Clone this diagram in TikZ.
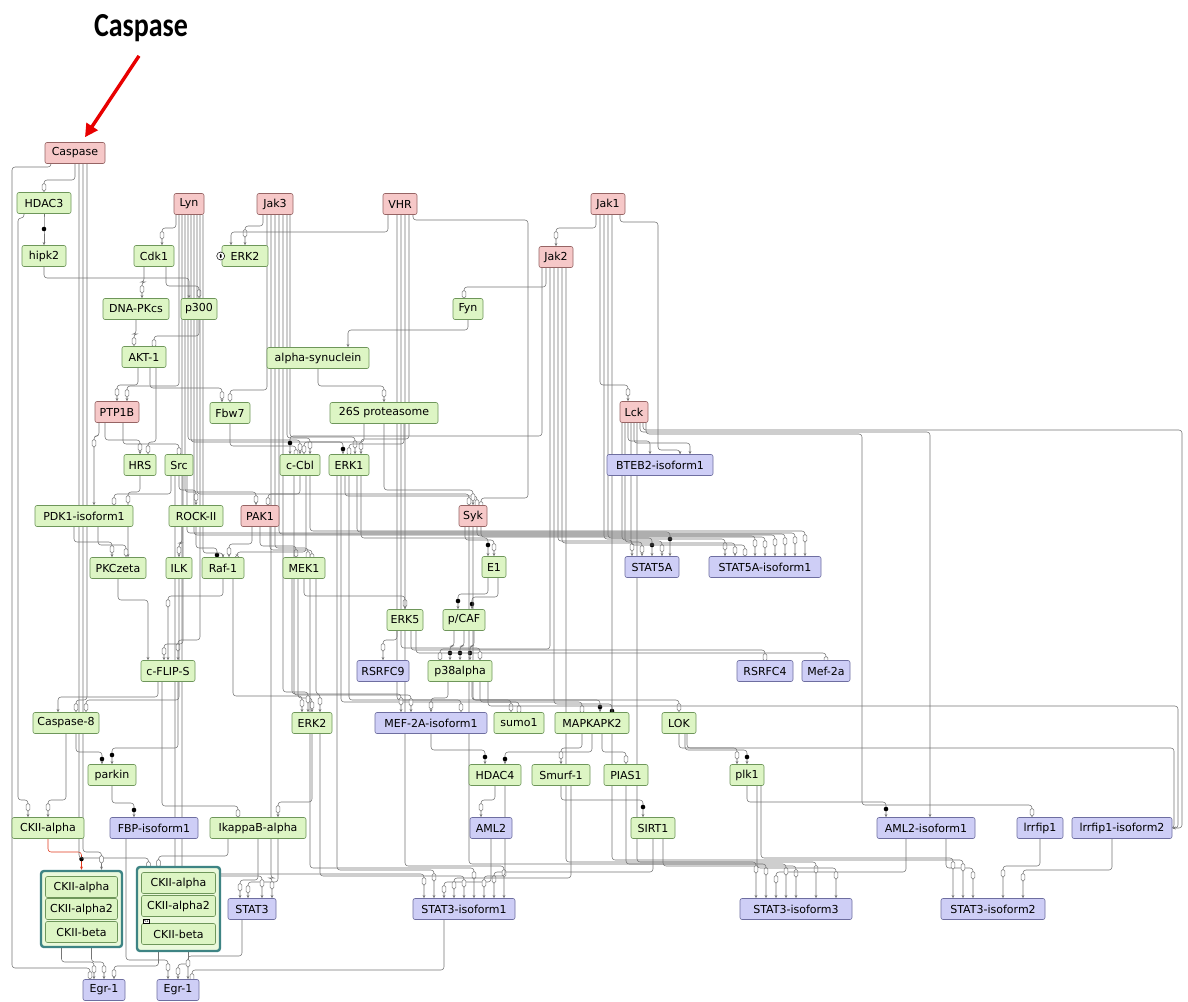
\documentclass[tikz,border=0pt]{standalone}
\usepackage{fontspec}
\usepackage{graphicx}
\usetikzlibrary{arrows.meta,calc}
\newfontfamily\nodefamily{DejaVu Sans}
\newfontfamily\titlefamily{Carlito}
\definecolor{pinkfill}{RGB}{246,200,200}
\definecolor{pinkline}{RGB}{150,100,100}
\definecolor{greenfill}{RGB}{221,245,196}
\definecolor{greenline}{RGB}{110,150,90}
\definecolor{bluefill}{RGB}{206,206,246}
\definecolor{blueline}{RGB}{110,110,160}
\definecolor{cxline}{RGB}{62,132,132}
\definecolor{wirecol}{RGB}{118,118,118}
\definecolor{arrowred}{RGB}{232,0,0}
\pgfdeclarelayer{bg}
\pgfdeclarelayer{wires}
\pgfsetlayers{bg,wires,main}
\tikzset{
  box/.style={draw, rounded corners=2pt, minimum height=21pt, inner xsep=3pt, inner ysep=2pt,
    line width=0.6pt, font=\nodefamily\fontsize{11}{12}\selectfont},
  pinkbox/.style={box, fill=pinkfill, draw=pinkline},
  greenbox/.style={box, fill=greenfill, draw=greenline},
  bluebox/.style={box, fill=bluefill, draw=blueline},
  cxbox/.style={draw=cxline, line width=2.4pt, rounded corners=3pt, fill=greenfill!60},
  wire/.style={draw=wirecol, line width=0.55pt, rounded corners=3pt, -{Stealth[length=3.2pt,width=2.8pt]}},
  capsule/.style={draw=wirecol, fill=white, line width=0.5pt, rounded corners=1.5pt},
  dotc/.style={fill=black},
}
% orthogonal connector: source south -> horizontal bus -> target north
\newcommand\conn[7][]{%
  \draw[wire,#1] let \p1=([xshift=#3pt]#2.south), \p2=([xshift=#5pt]#4.north), \p3=(0,#6) in
    (\p1) -- (\x1,\y3) -- (\x2,\y3) -- (\p2);
  \ifcase#7\relax
  \or \draw[capsule] let \p2=([xshift=#5pt]#4.north), \p3=(0,#6) in
      (\x2-1.8pt,\y3-3.5pt) rectangle (\x2+1.8pt,\y3-11pt);
  \or \fill[dotc] let \p2=([xshift=#5pt]#4.north), \p3=(0,#6) in
      (\x2,\y3-7pt) circle (2.3pt);
  \fi}
% connector routed round a side lane: down, across to lane X, down, across, into target top
\newcommand\lconn[8]{%
  \draw[wire] let \p1=([xshift=#2pt]#1.south), \p2=([xshift=#7pt]#6.north), \p3=(#4,#3), \p4=(#4,#5) in
    (\p1) -- (\x1,\y3) -- (\p3) -- (\p4) -- (\x2,\y4) -- (\p2);
  \ifnum#8=1
  \draw[capsule] let \p2=([xshift=#7pt]#6.north), \p4=(#4,#5) in
      (\x2-1.8pt,\y4-3.5pt) rectangle (\x2+1.8pt,\y4-11pt);
  \fi}
% connector entering the east side of its target
\newcommand\econn[5]{%
  \draw[wire] let \p1=([xshift=#2pt]#1.south), \p2=(#5.east), \p3=(#4,#3) in
    (\p1) -- (\x1,\y3) -- (\p3) -- (\x3,\y2) -- (\p2);}

\begin{document}
\begin{tikzpicture}[x=1pt,y=-1pt]
\begin{pgfonlayer}{bg}
  \fill[white] (0,0) rectangle (1188,1001);
\end{pgfonlayer}
\useasboundingbox (0,0) rectangle (1188,1001);

% ---------- title and pointer ----------
\node[font=\titlefamily\bfseries\fontsize{28}{30}\selectfont, inner sep=0pt] (title) at (141,28) {\scalebox{1}[1.2]{Caspase}};

% ---------- kinases (pink) ----------
\node[pinkbox, minimum width=60pt] (caspase) at (75,153) {Caspase};
\node[pinkbox, minimum width=30pt] (lyn) at (189,204) {Lyn};
\node[pinkbox, minimum width=36pt] (jakthree) at (275,204) {Jak3};
\node[pinkbox, minimum width=34pt] (vhr) at (400,204) {VHR};
\node[pinkbox, minimum width=34pt] (jakone) at (608,204) {Jak1};
\node[pinkbox, minimum width=34pt] (jaktwo) at (556,257) {Jak2};
\node[pinkbox, minimum width=44pt] (ptp) at (117,412) {PTP1B};
\node[pinkbox, minimum width=28pt] (lck) at (634,412) {Lck};
\node[pinkbox, minimum width=38pt] (pak) at (260,516) {PAK1};
\node[pinkbox, minimum width=28pt] (syk) at (473,516) {Syk};

% ---------- green proteins ----------
\node[greenbox, minimum width=54pt] (hdac3) at (44,203) {HDAC3};
\node[greenbox, minimum width=44pt] (hipk2) at (44,256) {hipk2};
\node[greenbox, minimum width=40pt] (cdk1) at (154,256) {Cdk1};
\node[greenbox, minimum width=46pt] (erktwoa) at (245,256) {ERK2};
\node[greenbox, minimum width=30pt] (fyn) at (468,309) {Fyn};
\node[greenbox, minimum width=66pt] (dnapk) at (136,309) {DNA-PKcs};
\node[greenbox, minimum width=36pt] (ptrec) at (199,309) {p300};
\node[greenbox, minimum width=44pt] (akt) at (144,357) {AKT-1};
\node[greenbox, minimum width=102pt] (asyn) at (318,358) {alpha-synuclein};
\node[greenbox, minimum width=40pt] (fbw) at (230,413) {Fbw7};
\node[greenbox, minimum width=108pt] (prot) at (384,413) {26S proteasome};
\node[greenbox, minimum width=32pt] (hrs) at (140,465) {HRS};
\node[greenbox, minimum width=28pt] (src) at (179,465) {Src};
\node[greenbox, minimum width=40pt] (ccbl) at (300,465) {c-Cbl};
\node[greenbox, minimum width=40pt] (erkone) at (349,465) {ERK1};
\node[greenbox, minimum width=98pt] (pdk) at (84,516) {PDK1-isoform1};
\node[greenbox, minimum width=54pt] (rock) at (196,516) {ROCK-II};
\node[greenbox, minimum width=56pt] (pkcz) at (118,568) {PKCzeta};
\node[greenbox, minimum width=26pt] (ilk) at (179,568) {ILK};
\node[greenbox, minimum width=42pt] (raf) at (223,568) {Raf-1};
\node[greenbox, minimum width=42pt] (mek) at (304,568) {MEK1};
\node[greenbox, minimum width=24pt] (eone) at (494,567) {E1};
\node[greenbox, minimum width=36pt] (erkfive) at (405,620) {ERK5};
\node[greenbox, minimum width=42pt] (pcaf) at (464,620) {p/CAF};
\node[greenbox, minimum width=64pt] (pthirtyeight) at (460,671) {p38alpha};
\node[greenbox, minimum width=54pt] (cflip) at (168,671) {c-FLIP-S};
\node[greenbox, minimum width=66pt] (caspeight) at (66,723) {Caspase-8};
\node[greenbox, minimum width=40pt] (erktwob) at (312,723) {ERK2};
\node[greenbox, minimum width=50pt] (sumo) at (519,723) {sumo1};
\node[greenbox, minimum width=74pt] (mapk) at (592,723) {MAPKAPK2};
\node[greenbox, minimum width=34pt] (lok) at (679,723) {LOK};
\node[greenbox, minimum width=48pt] (parkin) at (112,775) {parkin};
\node[greenbox, minimum width=52pt] (hdacfour) at (495,775) {HDAC4};
\node[greenbox, minimum width=58pt] (smurf) at (561,775) {Smurf-1};
\node[greenbox, minimum width=44pt] (pias) at (626,775) {PIAS1};
\node[greenbox, minimum width=34pt] (plk) at (747,775) {plk1};
\node[greenbox, minimum width=72pt] (ckiia) at (48,828) {CKII-alpha};
\node[greenbox, minimum width=96pt] (ikb) at (258,828) {IkappaB-alpha};
\node[greenbox, minimum width=44pt] (sirt) at (653,828) {SIRT1};

% ---------- transcription factors (blue) ----------
\node[bluebox, minimum width=106pt] (bteb) at (660,465) {BTEB2-isoform1};
\node[bluebox, minimum width=54pt] (stfa) at (652,567) {STAT5A};
\node[bluebox, minimum width=112pt] (stfai) at (765,567) {STAT5A-isoform1};
\node[bluebox, minimum width=52pt] (rsrfnine) at (383,671) {RSRFC9};
\node[bluebox, minimum width=56pt] (rsrffour) at (765,671) {RSRFC4};
\node[bluebox, minimum width=48pt] (meftwoa) at (826,671) {Mef-2a};
\node[bluebox, minimum width=112pt] (mefiso) at (431,723) {MEF-2A-isoform1};
\node[bluebox, minimum width=88pt] (fbp) at (154,828) {FBP-isoform1};
\node[bluebox, minimum width=42pt] (amltwo) at (491,828) {AML2};
\node[bluebox, minimum width=98pt] (amltwoi) at (926,828) {AML2-isoform1};
\node[bluebox, minimum width=46pt] (lrr) at (1040,828) {lrrfip1};
\node[bluebox, minimum width=100pt] (lrri) at (1122,828) {lrrfip1-isoform2};
\node[bluebox, minimum width=48pt] (stthree) at (252,909) {STAT3};
\node[bluebox, minimum width=102pt] (stthreeone) at (464,909) {STAT3-isoform1};
\node[bluebox, minimum width=112pt] (stthreethree) at (796,909) {STAT3-isoform3};
\node[bluebox, minimum width=104pt] (stthreetwo) at (993,909) {STAT3-isoform2};
\node[bluebox, minimum width=42pt] (egra) at (104,990) {Egr-1};
\node[bluebox, minimum width=42pt] (egrb) at (178,990) {Egr-1};

% ---------- CKII complexes ----------
\node[cxbox, minimum width=81pt, minimum height=76pt] (cxone) at (81.5,909) {};
\node[greenbox, minimum width=72pt] (cxonea) at (81.5,887) {CKII-alpha};
\node[greenbox, minimum width=72pt] (cxoneb) at (81.5,909) {CKII-alpha2};
\node[greenbox, minimum width=72pt] (cxonec) at (81.5,932) {CKII-beta};
\node[cxbox, minimum width=83pt, minimum height=84pt] (cxtwo) at (178.5,909) {};
\node[greenbox, minimum width=74pt] (cxtwoa) at (178.5,883) {CKII-alpha};
\node[greenbox, minimum width=74pt] (cxtwob) at (178.5,906) {CKII-alpha2};
\node[greenbox, minimum width=74pt] (cxtwoc) at (178.5,934) {CKII-beta};
\node[draw=black, fill=white, inner sep=0.6pt, font=\nodefamily\fontsize{4}{4}\selectfont] (rone) at (146,921.5) {R1};

% small state marker on ERK2
\node[draw=black, fill=white, circle, inner sep=0pt, minimum size=8pt, line width=0.5pt] (erkmark) at ([xshift=-1pt]erktwoa.west) {};
\fill[black] (erkmark.center) ellipse (1pt and 2pt);

% ---------- pointer arrow ----------
\draw[arrowred, line width=3.4pt, -{Triangle[length=13pt,width=13pt]}]
  ([xshift=-2pt,yshift=-14pt]title.south) -- ([xshift=10pt,yshift=5pt]caspase.north);

% ---------- interactions ----------
\begin{pgfonlayer}{wires}
% upper tiers
\conn{caspase}{0}{hdac3}{0}{180}{1}
\conn{hdac3}{0}{hipk2}{0}{222}{2}
\conn{lyn}{-13}{cdk1}{8}{228}{1}
\conn{jakthree}{-12}{erktwoa}{0}{226}{1}
\conn{vhr}{-12}{erktwoa}{-14}{232}{0}
\conn{jakone}{-12}{jaktwo}{0}{228}{1}
\conn{jaktwo}{-10}{fyn}{-4}{287}{1}
\conn{cdk1}{-10}{dnapk}{6}{282}{1}
\conn{cdk1}{12}{ptrec}{0}{286}{1}
\conn{hipk2}{0}{ptrec}{-10}{278}{0}
\conn{dnapk}{0}{akt}{-10}{334}{1}
\conn{ptrec}{0}{akt}{10}{336}{1}
\conn{akt}{-6}{ptp}{0}{385}{1}
\conn{asyn}{0}{prot}{0}{386}{1}
\conn{fyn}{0}{asyn}{30}{330}{0}
\conn{akt}{6}{fbw}{-8}{388}{1}
\conn{jakthree}{-8}{fbw}{0}{390}{1}
\conn{lyn}{-10}{ptp}{10}{386}{1}
\conn{jakone}{-8}{lck}{-6}{385}{1}
% middle tiers
\conn{ptp}{-12}{hrs}{0}{440}{1}
\conn{ptp}{6}{src}{0}{444}{1}
\conn{ptp}{-18}{pdk}{10}{436}{1}
\conn{lyn}{-1}{ccbl}{0}{440}{1}
\conn{lyn}{2}{erkone}{-6}{442}{2}
\conn{jakthree}{12}{ccbl}{10}{438}{1}
\conn{jakthree}{15}{erkone}{6}{437}{1}
\conn{vhr}{9}{erkone}{12}{439}{1}
\conn{jaktwo}{-14}{ccbl}{-10}{436}{2}
\conn{prot}{-20}{ccbl}{4}{442}{1}
\conn{prot}{20}{erkone}{0}{444}{1}
\conn{fbw}{0}{ccbl}{-4}{446}{1}
\conn{akt}{12}{hrs}{8}{442}{1}
\conn{lck}{-6}{bteb}{-10}{441}{0}
\conn{lck}{0}{bteb}{30}{443}{0}
\conn{src}{0}{rock}{0}{490}{1}
\conn{lyn}{-4}{pak}{-4}{492}{1}
\conn{lyn}{8}{syk}{-4}{494}{1}
\conn{ccbl}{0}{pak}{8}{494}{1}
\conn{erkone}{-4}{syk}{4}{496}{1}
\conn{prot}{0}{syk}{0}{490}{1}
\conn{hrs}{0}{pkcz}{10}{492}{1}
\conn{src}{-8}{pdk}{30}{494}{1}
\conn{pdk}{-10}{pkcz}{-6}{542}{1}
\conn{pdk}{14}{pkcz}{8}{545}{1}
\conn{rock}{-14}{ilk}{0}{543}{1}
\conn{rock}{0}{raf}{-6}{548}{2}
\conn{pak}{-8}{raf}{6}{544}{1}
\conn{pak}{0}{mek}{-8}{546}{1}
\conn{pak}{10}{mek}{8}{550}{1}
\conn{ccbl}{6}{raf}{14}{552}{1}
\conn{jakthree}{0}{mek}{4}{548}{1}
\conn{lyn}{14}{raf}{0}{553}{1}
\conn{syk}{-8}{eone}{0}{540}{1}
\conn{erkone}{12}{eone}{-6}{538}{2}
% STAT5A fan
\conn{lck}{-12}{stfa}{-20}{540}{1}
\conn{lck}{-9}{stfa}{-10}{542}{1}
\conn{jakone}{0}{stfa}{0}{538}{2}
\conn{jaktwo}{2}{stfa}{10}{541}{1}
\conn{erkone}{8}{stfa}{18}{532}{2}
\conn{jakone}{-4}{stfai}{-40}{539}{1}
\conn{jaktwo}{6}{stfai}{-30}{543}{1}
\conn{lck}{-3}{stfai}{-20}{545}{1}
\conn{syk}{4}{stfai}{-10}{536}{1}
\conn{syk}{8}{stfai}{0}{537}{1}
\conn{lyn}{5}{stfai}{10}{535}{1}
\conn{jakthree}{4}{stfai}{20}{534}{1}
\conn{src}{8}{stfai}{30}{533}{1}
\conn{ccbl}{10}{stfai}{40}{531}{1}
% lower-middle tiers
\conn{eone}{-6}{pcaf}{-6}{594}{2}
\conn{eone}{4}{pcaf}{8}{597}{2}
\conn{pcaf}{-10}{pthirtyeight}{-10}{646}{2}
\conn{pcaf}{0}{pthirtyeight}{0}{646}{2}
\conn{pcaf}{10}{pthirtyeight}{10}{646}{2}
\conn{erkfive}{-8}{rsrfnine}{0}{640}{1}
\conn{erkfive}{6}{rsrffour}{0}{650}{1}
\conn{erkfive}{11}{meftwoa}{0}{653}{1}
\conn{mek}{0}{erkfive}{0}{596}{1}
\conn{raf}{0}{cflip}{0}{596}{1}
\conn{pkcz}{0}{cflip}{-20}{600}{0}
\conn{lyn}{11}{cflip}{10}{640}{1}
\conn{src}{4}{cflip}{-4}{644}{1}
\conn{vhr}{1}{pthirtyeight}{20}{648}{1}
\conn{jaktwo}{-6}{pthirtyeight}{-20}{649}{1}
\conn{mek}{-6}{erktwob}{0}{698}{1}
\conn{mek}{-12}{erktwob}{8}{694}{1}
\conn{raf}{10}{erktwob}{-10}{696}{1}
\conn{jakthree}{8}{erktwob}{-4}{692}{1}
\conn{cflip}{-10}{caspeight}{-8}{697}{0}
\conn{ilk}{0}{caspeight}{20}{700}{1}
\conn{pthirtyeight}{-12}{mefiso}{0}{698}{1}
\conn{pthirtyeight}{12}{sumo}{-8}{700}{1}
\conn{pthirtyeight}{20}{mapk}{-10}{702}{1}
\conn{erkone}{0}{mapk}{8}{700}{2}
\conn{erkone}{-8}{sumo}{0}{702}{1}
\conn{mek}{12}{mefiso}{-30}{694}{1}
\conn{ccbl}{-6}{mefiso}{-20}{695}{1}
\conn{vhr}{-3}{mefiso}{30}{700}{1}
\conn{jaktwo}{-2}{mapk}{20}{704}{2}
\conn{syk}{0}{lok}{0}{700}{1}
% lower tiers
\conn{cflip}{10}{parkin}{0}{748}{2}
\conn{caspeight}{10}{parkin}{-10}{752}{2}
\conn{mefiso}{0}{hdacfour}{-10}{750}{2}
\conn{mapk}{0}{hdacfour}{10}{752}{2}
\conn{mapk}{-10}{smurf}{0}{748}{1}
\conn{mapk}{10}{pias}{0}{752}{1}
\conn{lok}{0}{plk}{-10}{748}{1}
\conn{lok}{6}{plk}{0}{750}{2}
\conn{parkin}{0}{fbp}{-20}{803}{2}
\conn{hdacfour}{0}{amltwo}{-10}{800}{1}
\conn{smurf}{0}{sirt}{-10}{800}{2}
\conn{plk}{0}{amltwoi}{-40}{802}{2}
\conn{caspeight}{0}{ckiia}{0}{800}{1}
\conn{erktwob}{0}{ikb}{20}{802}{1}
\conn{cflip}{-6}{ikb}{-20}{806}{1}
\conn[draw=red!55!brown]{ckiia}{0}{cxone}{0}{852}{2}
% STAT3 family
\conn{ikb}{0}{stthree}{-12}{880}{1}
\conn{ikb}{20}{stthree}{-4}{882}{1}
\conn{lyn}{-7}{stthree}{10}{876}{1}
\conn{jakthree}{-4}{stthree}{20}{878}{1}
\conn{ikb}{-30}{cxtwo}{-20}{856}{1}
\conn{amltwo}{0}{stthreeone}{-20}{882}{1}
\conn{sirt}{0}{stthreeone}{30}{872}{1}
\conn{src}{-4}{stthreeone}{-40}{874}{1}
\conn{erkone}{-12}{stthreeone}{-30}{870}{1}
\conn{erktwob}{8}{stthreeone}{0}{876}{1}
\conn{mek}{6}{stthreeone}{10}{868}{1}
\conn{vhr}{5}{stthreeone}{40}{866}{1}
\conn{hdacfour}{10}{stthreeone}{20}{876}{1}
\conn{smurf}{10}{stthreeone}{-10}{878}{1}
\conn{sirt}{10}{stthreethree}{0}{866}{1}
\conn{amltwoi}{-20}{stthreethree}{-20}{872}{1}
\conn{syk}{-4}{stthreethree}{-10}{864}{1}
\conn{lck}{3}{stthreethree}{20}{862}{1}
\conn{jaktwo}{10}{stthreethree}{-40}{862}{1}
\conn{pias}{0}{stthreethree}{-30}{864}{1}
\conn{plk}{10}{stthreethree}{40}{868}{1}
\conn{amltwoi}{20}{stthreetwo}{-20}{868}{1}
\conn{lrr}{0}{stthreetwo}{10}{866}{1}
\conn{lrri}{-10}{stthreetwo}{30}{870}{1}
\conn{jakone}{4}{stthreetwo}{-30}{860}{1}
\conn{plk}{14}{stthreetwo}{-40}{858}{1}
% Egr-1 inputs
\conn{cxone}{-20}{egra}{-10}{962}{1}
\conn{cxone}{10}{egra}{0}{962}{1}
\conn{cxtwo}{-20}{egra}{10}{966}{1}
\conn{cxtwo}{10}{egrb}{0}{964}{1}
\conn{stthree}{-10}{egrb}{10}{956}{1}
\conn{fbp}{-28}{egrb}{-10}{960}{1}
\conn{stthreeone}{-20}{egrb}{14}{970}{1}
% long runs from Caspase and HDAC3
\conn{caspase}{4}{cxtwo}{-30}{858}{1}
\conn{caspase}{8}{cxone}{20}{852}{1}
\conn{caspase}{12}{caspeight}{10}{700}{1}
\lconn{caspase}{-24}{167}{12}{968}{egra}{-14}{1}
\lconn{hdac3}{-20}{218}{18}{800}{ckiia}{-20}{1}
% side lanes on the right
\lconn{jakone}{12}{222}{658}{450}{bteb}{20}{0}
\lconn{vhr}{13}{220}{528}{498}{syk}{8}{1}
\conn{lck}{6}{amltwoi}{4}{432}{0}
\lconn{lck}{12}{434}{862}{805}{lrr}{-8}{1}
\econn{lck}{9}{430}{1182}{lrri}
\econn{pthirtyeight}{28}{706}{1178}{lrri}
\econn{lok}{8}{748}{1174}{lrri}
\end{pgfonlayer}
\end{tikzpicture}
\end{document}
